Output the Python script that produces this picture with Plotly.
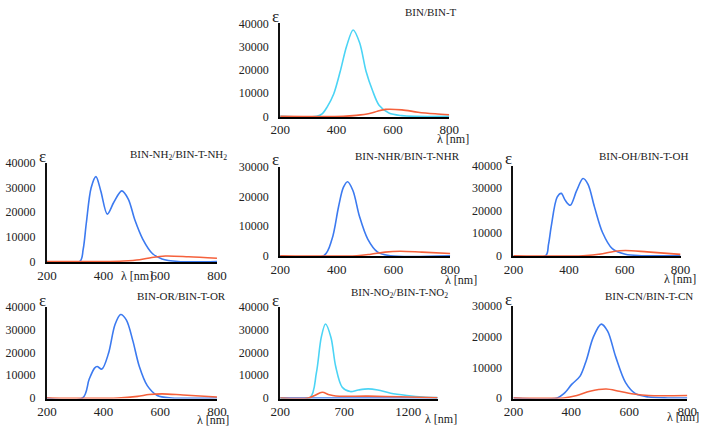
import plotly.graph_objects as go

W, H = 709, 433

# ---------------- data (wavelength in nm, epsilon) ----------------
# Panel 1: BIN/BIN-T
p1_cyan_wl = [200, 330, 350, 367, 390, 413, 436, 459, 482, 505, 528, 551, 586, 632, 678, 800]
p1_cyan_eps = [0, 0, 1200, 4100, 9650, 19300, 30300, 37200, 31700, 19300, 11000, 4800, 1400, 300, 0, 0]
p1_red_wl = [200, 424, 470, 517, 545, 574, 632, 689, 750, 800]
p1_red_eps = [0, 0, 400, 1200, 2200, 3000, 2800, 1800, 1100, 700]

# Panel 2: BIN-NH2/BIN-T-NH2
p2_blue_wl = [200, 316, 328, 339, 356, 373, 390, 413, 436, 464, 487, 510, 538, 572, 606, 663, 800]
p2_blue_eps = [0, 0, 5000, 15600, 29900, 34400, 28600, 19200, 24000, 28600, 25300, 16900, 9100, 3250, 1000, 0, 0]
p2_red_wl = [200, 400, 470, 527, 570, 618, 700, 800]
p2_red_eps = [0, 0, 200, 700, 1600, 2200, 1900, 1300]

# Panel 3: BIN-NHR/BIN-T-NHR
p3_blue_wl = [200, 354, 383, 406, 423, 438, 457, 480, 509, 543, 589, 800]
p3_blue_eps = [0, 0, 5600, 16500, 23000, 24900, 21900, 13200, 5600, 1300, 0, 0]
p3_red_wl = [200, 470, 520, 570, 623, 700, 800]
p3_red_eps = [0, 0, 500, 1200, 1500, 1200, 760]

# Panel 4: BIN-OH/BIN-T-OH
p4_blue_wl = [200, 316, 326, 336, 357, 372, 386, 404, 427, 450, 468, 491, 520, 555, 602, 660, 800]
p4_blue_eps = [0, 0, 5000, 13100, 26000, 27700, 24600, 22400, 28900, 34300, 31700, 21700, 10300, 3100, 600, 0, 0]
p4_red_wl = [200, 450, 520, 560, 602, 680, 800]
p4_red_eps = [0, 0, 900, 1900, 2300, 1700, 600]

# Panel 5: BIN-OR/BIN-T-OR
p5_blue_wl = [200, 326, 349, 368, 377, 394, 417, 440, 460, 480, 503, 526, 554, 589, 640, 800]
p5_blue_eps = [0, 0, 8200, 13100, 13800, 12700, 19500, 32200, 36700, 34300, 25200, 13800, 5400, 1100, 0, 0]
p5_red_wl = [200, 450, 520, 560, 606, 680, 800]
p5_red_eps = [0, 0, 700, 1500, 1800, 1300, 400]

# Panel 6: BIN-NO2/BIN-T-NO2
p6_cyan_wl = [200, 432, 483, 521, 554, 597, 634, 685, 748, 811, 887, 963, 1064, 1190, 1316, 1430]
p6_cyan_eps = [0, 0, 11000, 26600, 32500, 26600, 13800, 4700, 2800, 3500, 4000, 3500, 2100, 1100, 400, 150]
p6_red_wl = [200, 420, 470, 528, 584, 634, 887, 1140, 1430]
p6_red_eps = [0, 0, 1100, 2500, 1400, 850, 800, 500, 100]
p6_blue_wl = [200, 1430]
p6_blue_eps = [0, 0]

# Panel 7: BIN-CN/BIN-T-CN
p7_blue_wl = [200, 351, 374, 402, 430, 452, 475, 503, 525, 553, 587, 621, 666, 733, 800]
p7_blue_eps = [0, 0, 1400, 4500, 7100, 12400, 19700, 24100, 21800, 13400, 5000, 1400, 300, 0, 0]
p7_red_wl = [200, 374, 419, 464, 520, 565, 621, 666, 800]
p7_red_eps = [0, 0, 800, 2200, 2900, 2200, 1200, 800, 800]

titles = ["BIN/BIN-T",
          "BIN-NH<sub>2</sub>/BIN-T-NH<sub>2</sub>",
          "BIN-NHR/BIN-T-NHR",
          "BIN-OH/BIN-T-OH",
          "BIN-OR/BIN-T-OR",
          "BIN-NO<sub>2</sub>/BIN-T-NO<sub>2</sub>",
          "BIN-CN/BIN-T-CN"]
x_ticks_std = [200, 400, 600, 800]
x_ticks_no2 = [200, 700, 1200]
y_max = [40000, 40000, 30000, 40000, 40000, 40000, 30000]
x_range = [[200, 800]] * 5 + [[200, 1430], [200, 800]]

CYAN = "rgb(75,212,245)"
BLUE = "rgb(60,122,240)"
RED = "rgb(245,97,60)"

series = [
    [(p1_cyan_wl, p1_cyan_eps, CYAN), (p1_red_wl, p1_red_eps, RED)],
    [(p2_blue_wl, p2_blue_eps, BLUE), (p2_red_wl, p2_red_eps, RED)],
    [(p3_blue_wl, p3_blue_eps, BLUE), (p3_red_wl, p3_red_eps, RED)],
    [(p4_blue_wl, p4_blue_eps, BLUE), (p4_red_wl, p4_red_eps, RED)],
    [(p5_blue_wl, p5_blue_eps, BLUE), (p5_red_wl, p5_red_eps, RED)],
    [(p6_blue_wl, p6_blue_eps, BLUE), (p6_cyan_wl, p6_cyan_eps, CYAN), (p6_red_wl, p6_red_eps, RED)],
    [(p7_blue_wl, p7_blue_eps, BLUE), (p7_red_wl, p7_red_eps, RED)],
]

# ---------------- layout (pixel boxes) ----------------
# x0, x1, top, bottom (pixels)
boxes = [
    (278, 452, 17, 113),
    (38, 213, 161, 263),
    (278, 453, 165, 257),
    (518, 690, 164, 257),
    (38, 213, 310, 404),
    (278, 440, 310, 404),
    (518, 697, 309, 404),
]
# title right end x, title y center; lambda label center x, y
title_pos = [(462, 5), (225, 153), (465, 154), (700, 154), (224, 299), (453, 296), (705, 299)]
lam_pos = [(456, 136), (131, 278), (464, 282), (689, 281), (209, 427), (444, 426), (693, 424)]

SERIF = "Liberation Serif, Times New Roman, serif"
TXT = "#222"

def px(x):
    return x / W

def py(y):
    return 1 - y / H

fig = go.Figure()
layout = dict(width=W, height=H, margin=dict(l=0, r=0, t=0, b=0),
              paper_bgcolor="white", plot_bgcolor="white", showlegend=False,
              annotations=[])

for i, (box, ser) in enumerate(zip(boxes, series)):
    n = i + 1
    x0, x1, top, bot = box
    ymax = y_max[i]
    pad = ymax / (bot - top) * 0.7
    xa = "xaxis" if n == 1 else f"xaxis{n}"
    ya = "yaxis" if n == 1 else f"yaxis{n}"
    xr = "x" if n == 1 else f"x{n}"
    yr = "y" if n == 1 else f"y{n}"
    for wl, eps, col in ser:
        fig.add_trace(go.Scatter(x=wl, y=eps, mode="lines", xaxis=xr, yaxis=yr,
                                 line=dict(color=col, width=1.6, shape="spline", smoothing=0.9),
                                 hoverinfo="skip"))
    layout[xa] = dict(domain=[px(x0), px(x1)], range=x_range[i], anchor=yr,
                      showgrid=False, zeroline=False, showline=True,
                      linecolor="black", linewidth=1.5,
                      tickvals=x_ticks_no2 if n == 6 else x_ticks_std,
                      ticks="",
                      tickfont=dict(family=SERIF, size=13, color=TXT))
    layout[ya] = dict(domain=[py(bot + 0.7), py(top)], range=[-pad, ymax], anchor=xr,
                      showgrid=False, zeroline=False, showline=True,
                      linecolor="#111", linewidth=2,
                      tickvals=list(range(0, ymax + 1, 10000)), tickformat="d",
                      ticks="outside", ticklen=7, tickcolor="rgba(0,0,0,0)",
                      tickfont=dict(family=SERIF, size=12, color=TXT))
    tx, ty = title_pos[i]
    layout["annotations"].append(dict(text=titles[i], x=px(tx), y=py(ty), xref="paper", yref="paper",
                                      xanchor="right", yanchor="middle", showarrow=False,
                                      font=dict(family=SERIF, size=11, color=TXT)))
    layout["annotations"].append(dict(text="ε", x=px(x0 - 5), y=py(top - 7), xref="paper", yref="paper",
                                      xanchor="center", yanchor="middle", showarrow=False,
                                      font=dict(family=SERIF, size=17, color=TXT)))
    lx, ly = lam_pos[i]
    layout["annotations"].append(dict(text="λ [nm]", x=px(lx), y=py(ly), xref="paper", yref="paper",
                                      xanchor="center", yanchor="middle", showarrow=False,
                                      font=dict(family=SERIF, size=12, color=TXT)))

fig.update_layout(**layout)
fig.write_html("out.html", config={"displayModeBar": False},
               post_script="document.body.style.margin='0';")
